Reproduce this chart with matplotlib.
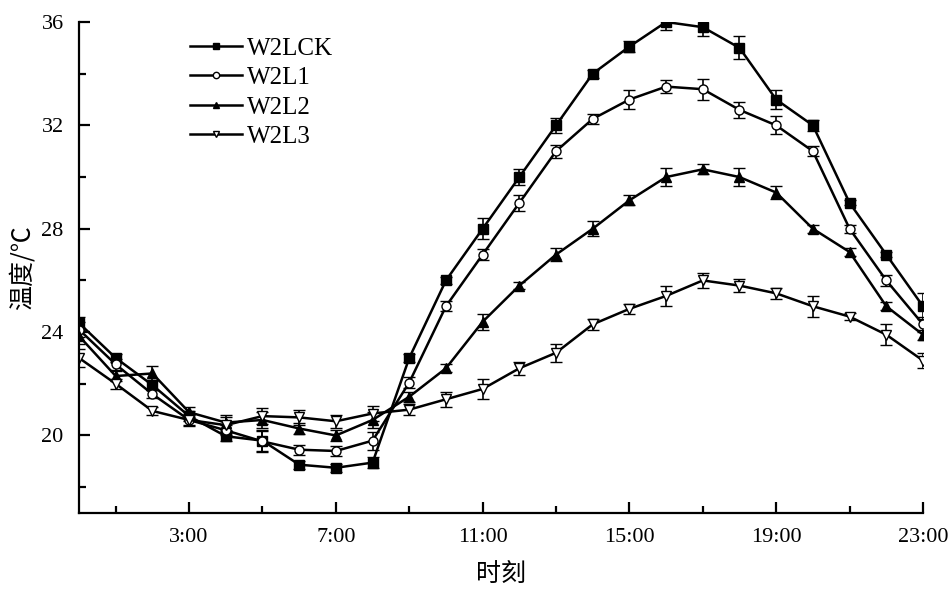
import matplotlib
matplotlib.use("Agg")
import matplotlib.pyplot as plt
import numpy as np
from matplotlib.ticker import MultipleLocator, FixedLocator

hours = list(range(24))
tick_hours = [3, 7, 11, 15, 19, 23]
tick_labels = ["3:00", "7:00", "11:00", "15:00", "19:00", "23:00"]

series_names = ["W2LCK", "W2L1", "W2L2", "W2L3"]
w2lck = [24.35, 23.0, 21.95, 20.75, 19.97, 19.8, 18.87, 18.75, 18.95, 23.0, 26.0, 28.0,
         30.0, 32.0, 34.0, 35.05, 36.0, 35.8, 35.0, 33.0, 32.0, 29.0, 27.0, 25.0]
w2l1 = [24.1, 22.75, 21.6, 20.6, 20.2, 19.77, 19.45, 19.4, 19.8, 22.05, 25.0, 27.0,
        29.0, 31.0, 32.25, 33.0, 33.5, 33.4, 32.6, 32.0, 31.0, 28.0, 26.0, 24.3]
w2l2 = [23.85, 22.3, 22.4, 20.9, 20.5, 20.6, 20.27, 20.0, 20.6, 21.5, 22.6, 24.4,
        25.8, 27.0, 28.0, 29.1, 30.0, 30.3, 30.0, 29.4, 28.0, 27.1, 25.0, 23.9]
w2l3 = [23.0, 22.0, 20.95, 20.6, 20.4, 20.75, 20.7, 20.55, 20.85, 21.0, 21.4, 21.8,
        22.6, 23.2, 24.3, 24.9, 25.4, 26.0, 25.8, 25.5, 25.0, 24.6, 23.9, 22.9]

err_w2lck = [0.25, 0.15, 0.2, 0.2, 0.2, 0.4, 0.15, 0.15, 0.2, 0.15, 0.15, 0.4,
             0.3, 0.3, 0.15, 0.2, 0.3, 0.35, 0.45, 0.35, 0.2, 0.1, 0.1, 0.5]
err_w2l1 = [0.3, 0.2, 0.15, 0.25, 0.2, 0.4, 0.2, 0.2, 0.35, 0.2, 0.2, 0.2,
            0.3, 0.25, 0.2, 0.35, 0.25, 0.4, 0.3, 0.35, 0.2, 0.15, 0.2, 0.3]
err_w2l2 = [0.3, 0.2, 0.3, 0.2, 0.3, 0.3, 0.2, 0.2, 0.3, 0.2, 0.15, 0.3,
            0.15, 0.25, 0.3, 0.2, 0.35, 0.2, 0.35, 0.25, 0.15, 0.15, 0.15, 0.2]
err_w2l3 = [0.35, 0.2, 0.15, 0.2, 0.3, 0.3, 0.3, 0.25, 0.3, 0.2, 0.3, 0.4,
            0.25, 0.35, 0.2, 0.2, 0.4, 0.3, 0.25, 0.2, 0.4, 0.15, 0.4, 0.3]

values = [w2lck, w2l1, w2l2, w2l3]
errors = [err_w2lck, err_w2l1, err_w2l2, err_w2l3]
markers = ["s", "o", "^", "v"]
faces = ["black", "white", "black", "white"]
msizes = [6.5, 6.5, 7, 7]

plt.rcParams['font.family'] = ['Liberation Serif', 'Noto Sans CJK SC', 'DejaVu Sans']

fig = plt.figure(figsize=(9.52, 5.90), dpi=100)
ax = fig.add_axes([0.083, 0.1305, 0.8865, 0.8322])

for name, v, e, m, fc, ms in zip(series_names, values, errors, markers, faces, msizes):
    ax.errorbar(hours, v, yerr=e, color="black", lw=1.8, marker=m, markersize=ms,
                markerfacecolor=fc, markeredgecolor="black", markeredgewidth=1.0,
                ecolor="black", elinewidth=1.2, capsize=4.5, capthick=1.2, label=name)

ax.set_xlim(0, 23)
ax.set_ylim(17, 36)
ax.xaxis.set_major_locator(FixedLocator(tick_hours))
ax.set_xticklabels(tick_labels)
ax.xaxis.set_minor_locator(FixedLocator([1, 5, 9, 13, 17, 21]))
ax.yaxis.set_major_locator(FixedLocator([20, 24, 28, 32, 36]))
ax.yaxis.set_minor_locator(FixedLocator([18, 22, 26, 30, 34]))

for s in ["top", "right"]:
    ax.spines[s].set_visible(False)
for s in ["left", "bottom"]:
    ax.spines[s].set_linewidth(1.6)
ax.tick_params(which="both", direction="in", width=1.6, labelsize=16)
ax.tick_params(axis="x", which="major", pad=11)
ax.tick_params(axis="y", which="major", pad=11)
ax.tick_params(which="major", length=8)
ax.tick_params(which="minor", length=5)

cjk = ['Noto Sans CJK SC', 'DejaVu Sans']
ax.set_xlabel("时刻", fontsize=18, family=cjk, labelpad=10)
ax.set_ylabel("温度/℃", fontsize=18, family=cjk, labelpad=4)

handles, labels = ax.get_legend_handles_labels()
handles = [h[0] for h in handles]
leg = ax.legend(handles, labels, loc="upper left", bbox_to_anchor=(0.1315, 0.969),
                frameon=False, fontsize=18, handlelength=2.08, handletextpad=0.2,
                labelspacing=0.28, markerscale=0.7, numpoints=1,
                borderaxespad=0, borderpad=0)

fig.savefig("out.png", dpi=100)
